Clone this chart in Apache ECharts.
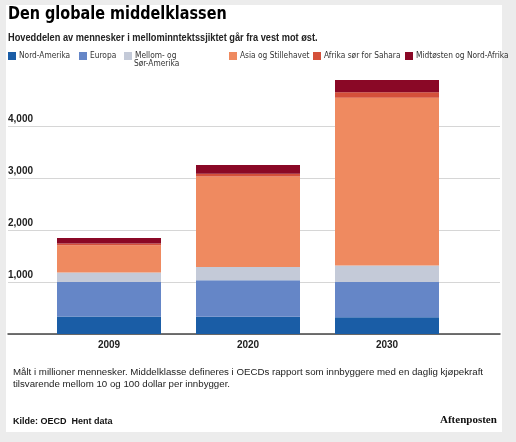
<!DOCTYPE html>
<html>
<head>
<meta charset="utf-8">
<script src="https://cdn.jsdelivr.net/npm/echarts@6/dist/echarts.min.js"></script>
<style>
html,body{margin:0;padding:0;background:#ececec;}
#chart{width:516px;height:442px;}
</style>
</head>
<body>
<div id="chart"></div>
<script>
// ---- data ----
const categories = ['2009', '2020', '2030'];
const seriesNames = ['Nord-Amerika', 'Europa', 'Mellom- og Sør-Amerika', 'Asia og Stillehavet', 'Afrika sør for Sahara', 'Midtøsten og Nord-Afrika'];
const nordAmerika = [338, 333, 322];
const europa = [664, 703, 680];
const mellomSorAmerika = [181, 251, 313];
const asiaStillehavet = [525, 1740, 3228];
const afrikaSorSahara = [32, 57, 107];
const midtostenNordAfrika = [105, 165, 234];
const yTicks = [0, 1000, 2000, 3000, 4000, 5000];

const values = [nordAmerika, europa, mellomSorAmerika, asiaStillehavet, afrikaSorSahara, midtostenNordAfrika];
const colors = ['#1a5da6', '#6586c7', '#c4cad8', '#ef8a60', '#d4503a', '#8a0826'];
const legendLeft = [8, 79, 124, 229, 313, 405];

const chart = echarts.init(document.getElementById('chart'), null, {renderer: 'canvas'});

const legends = seriesNames.map((n, i) => ({
  data: [n],
  left: legendLeft[i],
  top: 51,
  itemWidth: 8,
  itemHeight: 8,
  itemGap: 0,
  padding: 0,
  icon: 'rect',
  selectedMode: false,
  formatter: n === 'Mellom- og Sør-Amerika' ? 'Mellom- og' : '{name}',
  textStyle: {fontSize: 8.3, color: '#333', fontFamily: 'DejaVu Sans Condensed', padding: [0, 0, 0, -2], lineHeight: 10}
}));

const option = {
  animation: false,
  backgroundColor: 'transparent',
  graphic: [
    {type: 'rect', left: 6, top: 5, shape: {width: 496, height: 427}, style: {fill: '#ffffff'}, z: -10},
    {type: 'text', x: 8, y: 5, scaleX: 0.89, style: {text: 'Den globale middelklassen', font: 'bold 18px "DejaVu Sans Condensed"', fill: '#000'}},
    {type: 'text', x: 8, y: 33, scaleX: 0.88, style: {text: 'Hoveddelen av mennesker i mellominntektssjiktet går fra vest mot øst.', font: 'bold 10.5px "Liberation Sans"', fill: '#222'}},
    {type: 'text', x: 134, y: 60, style: {text: 'Sør-Amerika', font: '8.3px "DejaVu Sans Condensed"', fill: '#333'}},
    {type: 'text', left: 13, top: 366, style: {text: 'Målt i millioner mennesker. Middelklasse defineres i OECDs rapport som innbyggere med en daglig kjøpekraft\ntilsvarende mellom 10 og 100 dollar per innbygger.', font: '9.7px "Liberation Sans"', fill: '#222', lineHeight: 12}},
    {type: 'text', left: 13, top: 417, style: {text: 'Kilde: OECD  Hent data', font: 'bold 9px "Liberation Sans"', fill: '#111'}},
    {type: 'text', left: 440, top: 415, style: {text: 'Aftenposten', font: 'bold 11px "Liberation Serif"', fill: '#111'}}
  ],
  legend: legends,
  grid: [
    {left: 8, right: 16, top: 74, bottom: 108},
    {left: 39.5, right: 59.5, top: 74, bottom: 108}
  ],
  xAxis: [
    {gridIndex: 0, type: 'category', data: categories, axisLabel: {show: false}, axisTick: {show: false},
     axisLine: {show: true, lineStyle: {color: '#444', width: 1.5}}},
    {gridIndex: 1, type: 'category', data: categories, axisTick: {show: false}, axisLine: {show: false},
     axisLabel: {fontSize: 10, fontWeight: 'bold', color: '#222', fontFamily: 'Liberation Sans', margin: 6}}
  ],
  yAxis: [
    {gridIndex: 0, type: 'value', min: yTicks[0], max: yTicks[yTicks.length - 1], interval: 1000,
     axisLine: {show: false}, axisTick: {show: false},
     splitLine: {show: true, lineStyle: {color: ['#d6d6d6', '#d6d6d6', '#d6d6d6', '#d6d6d6', '#d6d6d6', 'rgba(0,0,0,0)'], width: 1}},
     axisLabel: {inside: true, verticalAlign: 'bottom', margin: 0, padding: [0, 0, 2, 0], fontSize: 10, fontWeight: 'bold', color: '#222', fontFamily: 'Liberation Sans',
       formatter: v => (v === 0 || v === 5000) ? '' : v.toLocaleString('en-US')}},
    {gridIndex: 1, type: 'value', min: yTicks[0], max: yTicks[yTicks.length - 1], interval: 1000, show: false, splitLine: {show: false}}
  ],
  series: seriesNames.map((n, i) => ({
    name: n, type: 'bar', stack: 'total', xAxisIndex: 1, yAxisIndex: 1,
    barWidth: 104, data: values[i], itemStyle: {color: colors[i]}, emphasis: {disabled: true}
  }))
};
chart.setOption(option);
</script>
</body>
</html>
